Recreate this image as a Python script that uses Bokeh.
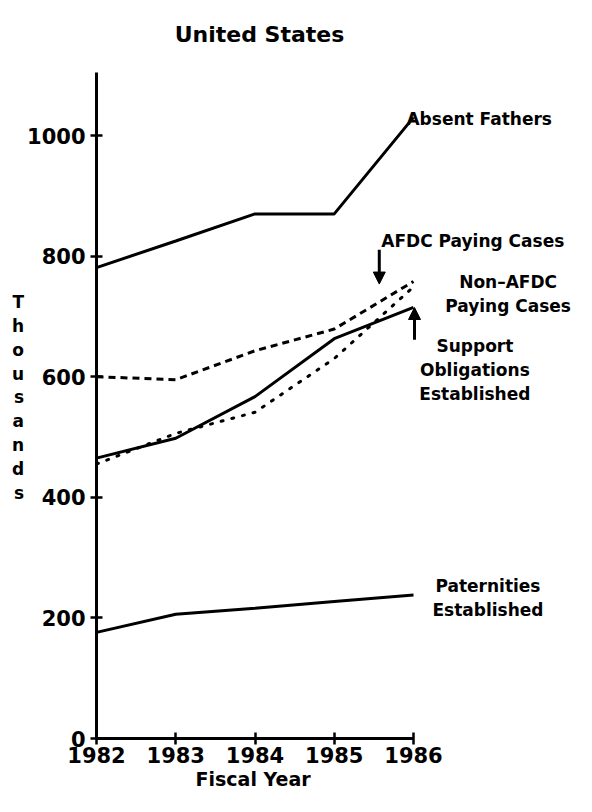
from bokeh.plotting import figure
from bokeh.models import Range1d, FixedTicker, Arrow, NormalHead, Title
from bokeh.embed import file_html
from bokeh.resources import INLINE
from bokeh.core.properties import value

# ---- data (thousands) ----
years = [1982, 1983, 1984, 1985, 1986]
absent_fathers = [781, 825, 870, 870, 1030]
afdc_paying = [600, 595, 643, 679, 758]
non_afdc_paying = [455, 506, 541, 630, 749]
support_obligations = [465, 498, 567, 663, 715]
paternities = [176, 206, 216, 227, 238]
y_ticks = [0, 200, 400, 600, 800, 1000]
x_ticks = years
title_text = "United States"
y_label = "Thousands"
x_label = "Fiscal Year"

# ---- layout ----
W, H = 576, 796
B_LEFT, B_RIGHT, B_TOP, B_BOTTOM = 96, 0, 8, 58
PX_YEAR = 79.25
PX_UNIT = 0.603
x_end = years[0] + (W - B_LEFT - B_RIGHT) / PX_YEAR
y_end = (H - B_TOP - B_BOTTOM) / PX_UNIT

# reference picture geometry -> data units (for annotation placement)
def X(ref_x):
    return years[0] + (ref_x - 98) / 78.75

def Y(ref_y):
    return (752 - ref_y) / 0.617

FONT = value("DejaVu Sans")

p = figure(width=W, height=H, output_backend="svg", toolbar_location=None,
           x_range=Range1d(years[0], x_end), y_range=Range1d(0, y_end),
           min_border_left=B_LEFT, min_border_right=B_RIGHT,
           min_border_top=B_TOP, min_border_bottom=B_BOTTOM)
p.outline_line_color = None
p.xgrid.grid_line_color = None
p.ygrid.grid_line_color = None
p.background_fill_color = "white"

for ax, ticks in ((p.xaxis[0], x_ticks), (p.yaxis[0], y_ticks)):
    ax.ticker = FixedTicker(ticks=ticks)
    ax.axis_line_width = 3
    ax.axis_line_color = "black"
    ax.major_tick_in = 6
    ax.major_tick_out = 6
    ax.major_tick_line_width = 2.5
    ax.minor_tick_line_color = None
    ax.major_label_text_font = "DejaVu Sans"
    ax.major_label_text_font_style = "bold"
    ax.major_label_text_color = "black"
    ax.axis_label_text_font = "DejaVu Sans"
    ax.axis_label_text_font_style = "bold"
    ax.axis_label_text_color = "black"
p.xaxis.bounds = (years[0], years[-1])
p.yaxis.bounds = (0, 1105)
p.xaxis.major_label_text_font_size = "21px"
p.xaxis.major_label_standoff = 2
p.yaxis.major_label_text_font_size = "21px"
p.yaxis.major_label_standoff = 5

# stacked vertical "Thousands" (leading blank lines push it down to sit beside 400-600)
p.yaxis.axis_label = "\n".join(["\u00a0", "\u00a0"] + list(y_label))
p.yaxis.axis_label_orientation = "horizontal"
p.yaxis.axis_label_text_font_size = "17px"
p.yaxis.axis_label_text_line_height = 1.19
p.yaxis.axis_label_standoff = 0

p.add_layout(Title(text=x_label, align="left", offset=99, standoff=0,
                   text_font="DejaVu Sans", text_font_style="bold",
                   text_font_size="19px", text_color="black"), "below")

# ---- series ----
p.line(years, absent_fathers, line_color="black", line_width=3)
p.line(years, afdc_paying, line_color="black", line_width=3, line_dash="7 5")
p.line(years, non_afdc_paying, line_color="black", line_width=3, line_dash="2 9",
       line_cap="round")
p.line(years, support_obligations, line_color="black", line_width=3)
p.line(years, paternities, line_color="black", line_width=3)

# ---- text annotations ----
def txt(x, y, s, size="17px", align="left"):
    p.text(x=[x], y=[y], text=[s], text_font=FONT, text_font_style="bold",
           text_font_size=size, text_align=align, text_baseline="middle",
           text_color="black", text_line_height=1.22)

txt(X(260), Y(32), title_text, size="22px", align="center")
txt(X(406), Y(118), "Absent Fathers")
txt(X(381), Y(243), "AFDC Paying Cases")
txt(X(507), Y(297), "Non\u2013AFDC\nPaying Cases", align="center")
txt(X(474), Y(375), "Support\nObligations\nEstablished", align="center")
txt(X(487), Y(608), "Paternities\nEstablished", align="center")

p.add_layout(Arrow(end=NormalHead(size=12, fill_color="black", line_color="black"),
                   x_start=X(379), y_start=Y(252), x_end=X(379), y_end=Y(287),
                   line_width=3, line_color="black"))
p.add_layout(Arrow(end=NormalHead(size=12, fill_color="black", line_color="black"),
                   x_start=X(414), y_start=Y(344), x_end=X(414), y_end=Y(311),
                   line_width=3, line_color="black"))

open("out.html", "w").write(file_html(p, INLINE))
